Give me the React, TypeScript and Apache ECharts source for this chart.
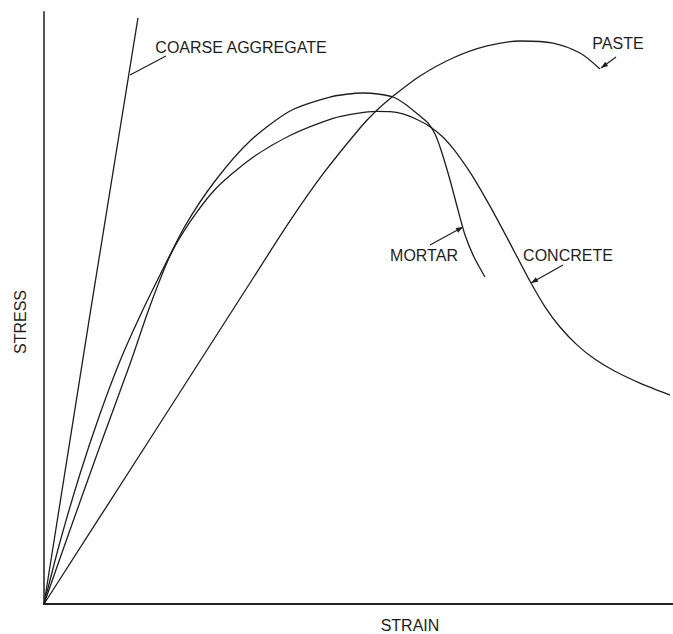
import React, { useEffect, useRef } from "react";
import * as echarts from "echarts";

// Strain (x) / stress (y) in arbitrary relative units (0–100)
const coarseAggregate: [number, number][] = [
  [0, 0], [7.4, 49.5], [14.94, 99.0],
];
const paste: [number, number][] = [
  [0, 0], [16.85, 27.87], [32.75, 54.22], [39.11, 64.7], [44.36, 72.64],
  [50.24, 80.41], [52.62, 83.11], [55.33, 85.64], [59.78, 89.19], [65.02, 92.23],
  [70.43, 94.26], [75.68, 95.1], [80.92, 94.76], [85.21, 93.07], [88.39, 90.37],
];
const mortar: [number, number][] = [
  [0, 0], [2.54, 10.47], [5.72, 21.96], [8.9, 32.09], [12.08, 41.05],
  [15.26, 48.65], [18.44, 55.57], [22.42, 63.85], [27.19, 71.45], [32.75, 78.21],
  [39.11, 83.28], [45.47, 85.64], [50.72, 86.32], [53.1, 86.15], [55.48, 85.64],
  [57.39, 84.46], [59.78, 82.43], [61.05, 81.25], [62.16, 79.39], [63.12, 76.69],
  [64.55, 71.62], [65.82, 66.55], [66.93, 62.33], [68.36, 58.61], [70.11, 55.24],
];
const concrete: [number, number][] = [
  [0, 0], [4.13, 12.5], [8.9, 26.69], [13.67, 40.54], [16.85, 50.34],
  [20.03, 58.78], [23.21, 64.53], [27.19, 70.02], [32.75, 75.1], [39.11, 79.14],
  [45.95, 82.04], [49.5, 82.85], [52.94, 83.22], [55.01, 83.18], [57.07, 82.78],
  [59.3, 81.84], [61.37, 80.63], [63.28, 79.0], [65.02, 76.96], [66.61, 74.68],
  [68.2, 72.14], [70.91, 67.21], [73.61, 61.89], [77.27, 54.51], [79.65, 50.2],
  [82.03, 46.79], [84.74, 43.77], [87.6, 41.33], [90.78, 39.31], [94.75, 37.31],
  [99.52, 35.29],
];

const seriesNames = ["COARSE AGGREGATE", "PASTE", "MORTAR", "CONCRETE"];
const axisNames = { x: "STRAIN", y: "STRESS" };

const INK = "#1e1e1e";
const FONT = "'Liberation Sans', Arial, sans-serif";

function arrowHead(x1: number, y1: number, x2: number, y2: number, len = 7, half = 2.6) {
  const dx = x2 - x1;
  const dy = y2 - y1;
  const d = Math.hypot(dx, dy) || 1;
  const ux = dx / d;
  const uy = dy / d;
  const bx = x2 - ux * len;
  const by = y2 - uy * len;
  return {
    type: "polygon",
    shape: {
      points: [
        [x2, y2],
        [bx - uy * half, by + ux * half],
        [bx + uy * half, by - ux * half],
      ],
    },
    style: { fill: INK },
    silent: true,
  };
}

function leader(x1: number, y1: number, x2: number, y2: number, arrow: boolean) {
  const els: any[] = [
    {
      type: "line",
      shape: { x1, y1, x2, y2 },
      style: { stroke: INK, lineWidth: 1.2 },
      silent: true,
    },
  ];
  if (arrow) els.push(arrowHead(x1, y1, x2, y2));
  return els;
}

function label(text: string, x: number, y: number, rotation = 0) {
  return {
    type: "text",
    x,
    y,
    rotation,
    style: {
      text,
      fill: INK,
      font: `16px ${FONT}`,
      align: "center",
      verticalAlign: "middle",
    },
    silent: true,
  };
}

export default function App() {
  const ref = useRef<HTMLDivElement>(null);

  useEffect(() => {
    document.body.style.margin = "0";
    if (!ref.current) return;
    const chart = echarts.init(ref.current, undefined, { renderer: "svg" });

    const mkSeries = (name: string, data: [number, number][], smooth: number) => ({
      name,
      type: "line",
      data,
      showSymbol: false,
      smooth,
      lineStyle: { color: INK, width: 1.3 },
      itemStyle: { color: INK },
      silent: true,
    });

    chart.setOption({
      animation: false,
      backgroundColor: "#ffffff",
      grid: { left: 44, right: 0, top: 12, bottom: 30 },
      xAxis: {
        type: "value",
        min: 0,
        max: 100,
        axisLine: { show: true, lineStyle: { color: "#222", width: 2 } },
        axisTick: { show: false },
        axisLabel: { show: false },
        splitLine: { show: false },
      },
      yAxis: {
        type: "value",
        min: 0,
        max: 100,
        axisLine: { show: true, lineStyle: { color: "#555", width: 2 } },
        axisTick: { show: false },
        axisLabel: { show: false },
        splitLine: { show: false },
      },
      series: [
        mkSeries(seriesNames[0], coarseAggregate, 0),
        mkSeries(seriesNames[1], paste, 0.3),
        mkSeries(seriesNames[2], mortar, 0.25),
        mkSeries(seriesNames[3], concrete, 0.25),
      ],
      graphic: [
        label(seriesNames[0], 241, 47),
        ...leader(166, 56, 130, 75, false),
        label(seriesNames[1], 618, 43),
        ...leader(616, 57, 601, 68, true),
        label(seriesNames[2], 424, 255),
        ...leader(430, 245, 463, 227, true),
        label(seriesNames[3], 568, 255),
        ...leader(563, 265, 531, 283, true),
        label(axisNames.x, 410, 625),
        label(axisNames.y, 20, 322, Math.PI / 2),
      ],
    });

    return () => chart.dispose();
  }, []);

  return <div ref={ref} style={{ width: 673, height: 634 }} />;
}
